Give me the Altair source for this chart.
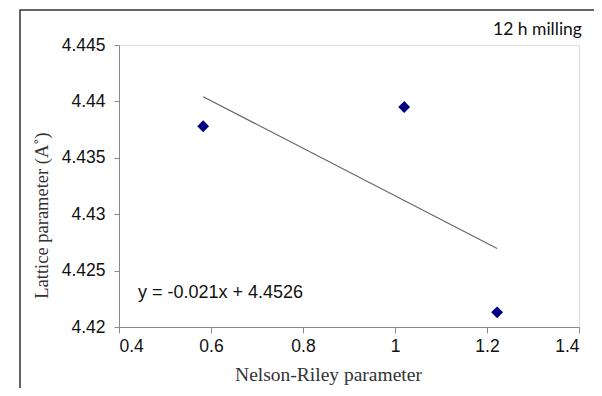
import altair as alt
import pandas as pd

nr_param = [0.583, 1.02, 1.222]
lattice = [4.4378, 4.4395, 4.4213]
x_ticks = [0.4, 0.6, 0.8, 1.0, 1.2, 1.4]
y_ticks = [4.42, 4.425, 4.43, 4.435, 4.44, 4.445]
equation = "y = -0.021x + 4.4526"
note = "12 h milling"

df = pd.DataFrame({"x": nr_param, "y": lattice})

xscale = alt.Scale(domain=[0.4, 1.4], nice=False, zero=False)
yscale = alt.Scale(domain=[4.42, 4.445], nice=False, zero=False)

xaxis = alt.Axis(values=x_ticks, format=".1~f", grid=False, title="Nelson-Riley parameter",
                 domainColor="#888888", tickColor="#888888", tickSize=6,
                 labelFont="Liberation Sans", labelFontSize=17.5, labelColor="#111111",
                 labelPadding=4, titleFont="Liberation Serif", titleFontSize=19.5,
                 titleFontWeight="normal", titleColor="#333333", titleX=209, titleY=47,
                 titleBaseline="middle", titleAlign="center")
yaxis = alt.Axis(values=y_ticks, format=".3~f", grid=False, title="Lattice parameter (A˚)",
                 domainColor="#888888", tickColor="#888888", tickSize=5,
                 labelFont="Liberation Sans", labelFontSize=17.5, labelColor="#111111",
                 labelPadding=9, titleFont="Liberation Serif", titleFontSize=18.5,
                 titleFontWeight="normal", titleColor="#333333", titleX=-78, titleY=170,
                 titleAngle=270, titleAlign="center", titleBaseline="middle")

base = alt.Chart(df)

points = base.mark_point(shape="diamond", filled=True, size=140, color="#000080", opacity=1).encode(
    x=alt.X("x:Q", scale=xscale, axis=xaxis),
    y=alt.Y("y:Q", scale=yscale, axis=yaxis),
)

trend = base.transform_regression("x", "y").mark_line(color="#666666", strokeWidth=1.2).encode(
    x=alt.X("x:Q", scale=xscale),
    y=alt.Y("y:Q", scale=yscale),
)

eq_df = pd.DataFrame({"x": [0.4413], "y": [4.423], "t": [equation]})
eq = alt.Chart(eq_df).mark_text(align="left", baseline="middle", font="Liberation Sans",
                                fontSize=18, color="#111111").encode(
    x=alt.X("x:Q", scale=xscale), y=alt.Y("y:Q", scale=yscale), text="t:N")

note_df = pd.DataFrame({"t": [note]})
note_mark = alt.Chart(note_df).mark_text(align="left", baseline="middle", font="Lato",
                                         fontSize=17.5, color="#111111").encode(
    x=alt.value(374), y=alt.value(-15), text="t:N")

border = alt.Chart(note_df).mark_rect(filled=False, stroke="#333333", strokeWidth=1.5).encode(
    x=alt.value(-99), x2=alt.value(700), y=alt.value(-35), y2=alt.value(500))

chart = alt.layer(border, trend, points, eq, note_mark).properties(
    width=460, height=282,
    autosize=alt.AutoSizeParams(type="none"),
    padding={"left": 111, "top": 37, "right": 15, "bottom": 61},
).configure_view(stroke=None).configure(background="white")

chart.save("out.html", embed_options={"renderer": "svg", "actions": False})
